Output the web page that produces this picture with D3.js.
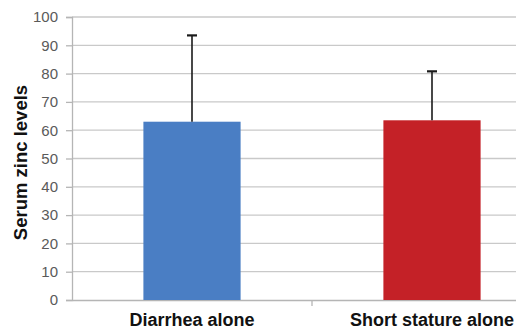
<!DOCTYPE html>
<html><head><meta charset="utf-8">
<script src="https://cdn.jsdelivr.net/npm/d3@7"></script>
<style>body{margin:0;background:#fff}svg{display:block}</style>
</head><body>
<script>
const categories = ["Diarrhea alone", "Short stature alone"];
const means = [63, 63.5];
const errors = [30.5, 17.3];
const colors = ["#4a7ec4", "#c42127"];
const yTicks = [0,10,20,30,40,50,60,70,80,90,100];

(function(){
const W = 516, H = 330;
const svg = d3.select("body").append("svg").attr("width", W).attr("height", H);
const mLeft = 72, mRight = 552, mTop = 17, mBottom = 300;
const x = d3.scaleBand().domain(categories).range([mLeft, mRight]).paddingInner(0).paddingOuter(0);
const y = d3.scaleLinear().domain([0, 100]).range([mBottom, mTop]);

// gridlines
svg.append("g").selectAll("line").data(yTicks.filter(d => d > 0)).join("line")
  .attr("x1", mLeft).attr("x2", mRight).attr("y1", d => y(d)).attr("y2", d => y(d))
  .attr("stroke", "#c9c9c9").attr("stroke-width", 1.3);

// y axis
const ya = svg.append("g").attr("transform", `translate(${mLeft},0)`)
  .call(d3.axisLeft(y).tickValues(yTicks).tickSize(6).tickPadding(8));
ya.select(".domain").attr("stroke", "#b5b5b5").attr("stroke-width", 1.3);
ya.selectAll(".tick line").attr("stroke", "#b5b5b5").attr("stroke-width", 1.3);
ya.selectAll("text").attr("font-family", "Liberation Sans, Arial, sans-serif")
  .attr("font-size", 15).attr("fill", "#5a5a5a");

// x axis
const xa = svg.append("g").attr("transform", `translate(0,${mBottom})`)
  .call(d3.axisBottom(x).tickSize(0).tickPadding(0));
xa.select(".domain").attr("stroke", "#b5b5b5").attr("stroke-width", 1.3);
xa.selectAll("text").attr("dy", null).attr("y", 26)
  .attr("font-family", "Liberation Sans, Arial, sans-serif")
  .attr("font-size", 18).attr("font-weight", "bold").attr("fill", "#111");
xa.append("line").attr("x1", x(categories[1])).attr("x2", x(categories[1]))
  .attr("y1", 0).attr("y2", 6).attr("stroke", "#b5b5b5").attr("stroke-width", 1.3);

// bars
const bw = x.bandwidth() * 0.405;
svg.append("g").selectAll("rect").data(categories).join("rect")
  .attr("x", (d) => x(d) + x.bandwidth()/2 - bw/2)
  .attr("width", bw)
  .attr("y", (d, i) => y(means[i]))
  .attr("height", (d, i) => y(0) - y(means[i]))
  .attr("fill", (d, i) => colors[i]);

// error bars
const eg = svg.append("g");
categories.forEach((c, i) => {
  const cx = x(c) + x.bandwidth()/2;
  eg.append("line").attr("x1", cx).attr("x2", cx)
    .attr("y1", y(means[i])).attr("y2", y(means[i] + errors[i]))
    .attr("stroke", "#1a1a1a").attr("stroke-width", 1.6);
  eg.append("line").attr("x1", cx - 5).attr("x2", cx + 5)
    .attr("y1", y(means[i] + errors[i])).attr("y2", y(means[i] + errors[i]))
    .attr("stroke", "#1a1a1a").attr("stroke-width", 2.2);
});

// y title
svg.append("text").attr("transform", `translate(27,162.5) rotate(-90)`)
  .attr("text-anchor", "middle")
  .attr("font-family", "Liberation Sans, Arial, sans-serif")
  .attr("font-size", 18.5).attr("font-weight", "bold").attr("fill", "#111")
  .text("Serum zinc levels");
})();
</script>
</body></html>
